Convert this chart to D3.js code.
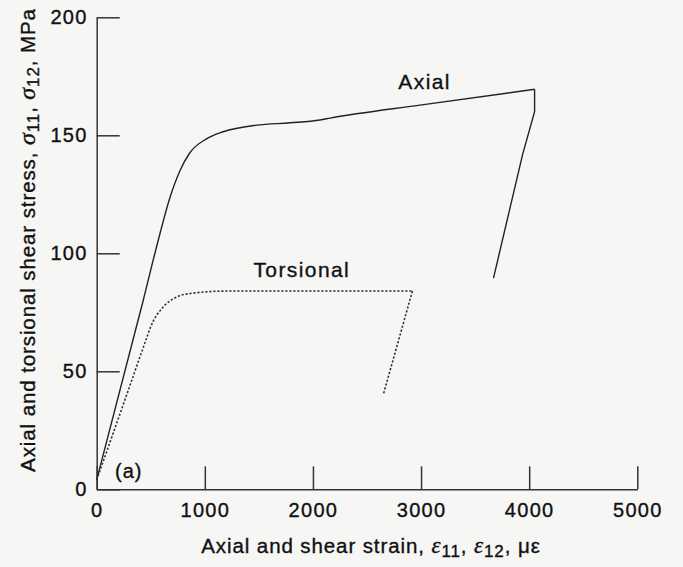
<!DOCTYPE html>
<html>
<head>
<meta charset="utf-8">
<script src="https://cdn.jsdelivr.net/npm/d3@7"></script>
<style>
  body { margin: 0; background: #f6f6f5; }
  svg { display: block; }
  text { font-family: "Liberation Sans", Arial, sans-serif; fill: #111; stroke: #111; stroke-width: 0.35px; }
  .axis path, .axis line { stroke: #333; stroke-width: 1.5; }
  .axis text { font-size: 20px; letter-spacing: 1.3px; }
</style>
</head>
<body>
<div id="chart"></div>
<script>
// strain (microstrain) vs stress (MPa)
// loading branch first, the last points are the unloading branch
const axialStrain = [0, 430, 555, 680, 770, 860, 1015, 1170, 1480, 1790, 2065, 2160, 2990, 4050, 4050, 3940, 3670];
const axialStress = [4, 80, 103, 124, 135, 142.5, 148.5, 151.5, 154.3, 155.3, 156.5, 157.3, 162.8, 169.5, 160, 142, 89.5];
const axialPeak = 13;
const torsStrain = [0, 300, 430, 520, 610, 740, 870, 1200, 2000, 2920, 2650];
const torsStress = [4, 43, 60, 71, 77, 81.5, 83, 84, 84, 84, 40];
const torsPeak = 9;
const xTicks = [0, 1000, 2000, 3000, 4000, 5000];
const yTicks = [0, 50, 100, 150, 200];

const W = 683, H = 567;
const svg = d3.select("#chart").append("svg").attr("width", W).attr("height", H);

const x = d3.scaleLinear().domain([0, 5000]).range([96.7, 637.3]);
const y = d3.scaleLinear().domain([0, 200]).range([489.3, 17.3]);

// axes, ticks pointing inward
svg.append("g")
    .attr("class", "axis")
    .attr("transform", `translate(0,${y(0)})`)
    .call(d3.axisBottom(x).tickValues(xTicks).tickSizeInner(-23).tickSizeOuter(0).tickPadding(14).tickFormat(d3.format("d")));

svg.append("g")
    .attr("class", "axis")
    .attr("transform", `translate(${x(0)},0)`)
    .call(d3.axisLeft(y).tickValues(yTicks).tickSizeInner(-23).tickSizeOuter(0).tickPadding(9).tickFormat(d3.format("d")));

svg.selectAll(".axis .domain").attr("stroke", "#333");

const smooth = d3.line().x(d => x(d[0])).y(d => y(d[1])).curve(d3.curveMonotoneX);
const straight = d3.line().x(d => x(d[0])).y(d => y(d[1]));

function drawCurve(xs, ys, peak, style) {
    const pts = xs.map((v, i) => [v, ys[i]]);
    const up = svg.append("path").datum(pts.slice(0, peak + 1)).attr("d", smooth);
    const down = svg.append("path").datum(pts.slice(peak)).attr("d", straight);
    [up, down].forEach(p => style(p.attr("fill", "none")));
}

drawCurve(axialStrain, axialStress, axialPeak, p => p
    .attr("stroke", "#222")
    .attr("stroke-width", 1.4));

drawCurve(torsStrain, torsStress, torsPeak, p => p
    .attr("stroke", "#333")
    .attr("stroke-width", 1.6)
    .attr("stroke-dasharray", "2.2,1.8"));

// curve labels
svg.append("text").attr("x", x(2790)).attr("y", y(169.6))
    .style("font-size", "21px").style("letter-spacing", "1.4px").text("Axial");
svg.append("text").attr("x", x(1450)).attr("y", y(90))
    .style("font-size", "21px").style("letter-spacing", "1.4px").text("Torsional");
svg.append("text").attr("x", x(169)).attr("y", y(4.8))
    .style("font-size", "20px").style("letter-spacing", "1px").text("(a)");

// axis titles
const xt = svg.append("text")
    .attr("x", 371).attr("y", 553)
    .attr("text-anchor", "middle")
    .style("font-size", "20.5px").style("letter-spacing", "0.9px");
xt.append("tspan").text("Axial and shear strain, ");
xt.append("tspan").style("font-family", "Liberation Serif").style("font-style", "italic").style("font-size", "23px").text("ε");
xt.append("tspan").attr("dy", 4).style("font-size", "17px").text("11");
xt.append("tspan").attr("dy", -4).text(", ");
xt.append("tspan").style("font-family", "Liberation Serif").style("font-style", "italic").style("font-size", "23px").text("ε");
xt.append("tspan").attr("dy", 4).style("font-size", "17px").text("12");
xt.append("tspan").attr("dy", -4).text(", με");

const yt = svg.append("text")
    .attr("transform", "translate(35,240) rotate(-90)")
    .attr("text-anchor", "middle")
    .style("font-size", "20.5px").style("letter-spacing", "0.9px");
yt.append("tspan").text("Axial and torsional shear stress, ");
yt.append("tspan").style("font-family", "Liberation Serif").style("font-style", "italic").style("font-size", "24px").text("σ");
yt.append("tspan").attr("dy", 4).style("font-size", "17px").text("11");
yt.append("tspan").attr("dy", -4).text(", ");
yt.append("tspan").style("font-family", "Liberation Serif").style("font-style", "italic").style("font-size", "24px").text("σ");
yt.append("tspan").attr("dy", 4).style("font-size", "17px").text("12");
yt.append("tspan").attr("dy", -4).text(", MPa");
</script>
</body>
</html>
